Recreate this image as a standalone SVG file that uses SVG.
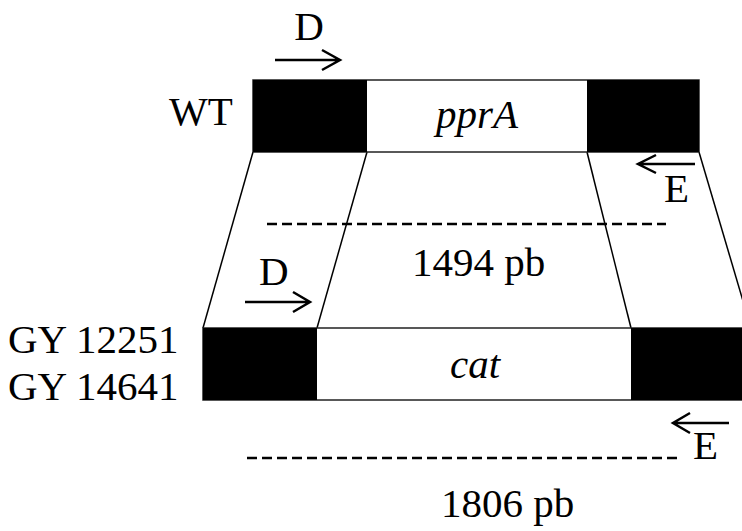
<svg xmlns="http://www.w3.org/2000/svg" width="742" height="531" viewBox="0 0 742 531">
<style>
text{font-family:"Liberation Serif","Times New Roman",serif;font-size:41px;fill:#000}
.it{font-style:italic}
.bar{fill:#fff;stroke:#222;stroke-width:1.5}
.blk{fill:#000}
.ln{stroke:#000;stroke-width:1.5;fill:none}
.arr{stroke:#000;stroke-width:2.5;fill:none}
.dash{stroke:#000;stroke-width:2.5;stroke-dasharray:10 5;fill:none}
</style>
<rect width="742" height="531" fill="#fff"/>
<g id="connectors">
<line class="ln" x1="253" y1="152" x2="203" y2="328"/>
<line class="ln" x1="367" y1="152" x2="317" y2="328"/>
<line class="ln" x1="587" y1="152" x2="631" y2="328"/>
<line class="ln" x1="699" y1="152" x2="751" y2="328"/>
<line class="dash" x1="267" y1="224" x2="666" y2="224"/>
<line class="dash" x1="247" y1="458" x2="678" y2="458"/>
<path class="arr" d="M275 60H340M322 50L340 60L322 70"/>
<path class="arr" d="M695 164H638M656 155L638 164L656 173"/>
<path class="arr" d="M245 302H310M293 292L310 302L293 312"/>
<path class="arr" d="M729 423H673M690 413L673 423L690 433"/>
</g>
<g id="wt">
<rect class="bar" x="253" y="80" width="446" height="72"/>
<rect class="blk" x="253" y="80" width="114" height="72"/>
<rect class="blk" x="587" y="80" width="112" height="72"/>
<text class="it" x="477" y="128" text-anchor="middle">pprA</text>
</g>
<g id="mutant">
<rect class="bar" x="203" y="328" width="560" height="72"/>
<rect class="blk" x="203" y="328" width="114" height="72"/>
<rect class="blk" x="631" y="328" width="130" height="72"/>
<text class="it" x="475" y="378" text-anchor="middle">cat</text>
</g>
<g id="labels">
<text x="309" y="40" text-anchor="middle">D</text>
<text x="169" y="125">WT</text>
<text x="664" y="202">E</text>
<text x="412" y="276">1494 pb</text>
<text x="259" y="285">D</text>
<text x="8" y="353">GY 12251</text>
<text x="8" y="400">GY 14641</text>
<text x="693" y="459">E</text>
<text x="441" y="517">1806 pb</text>
</g>
</svg>
